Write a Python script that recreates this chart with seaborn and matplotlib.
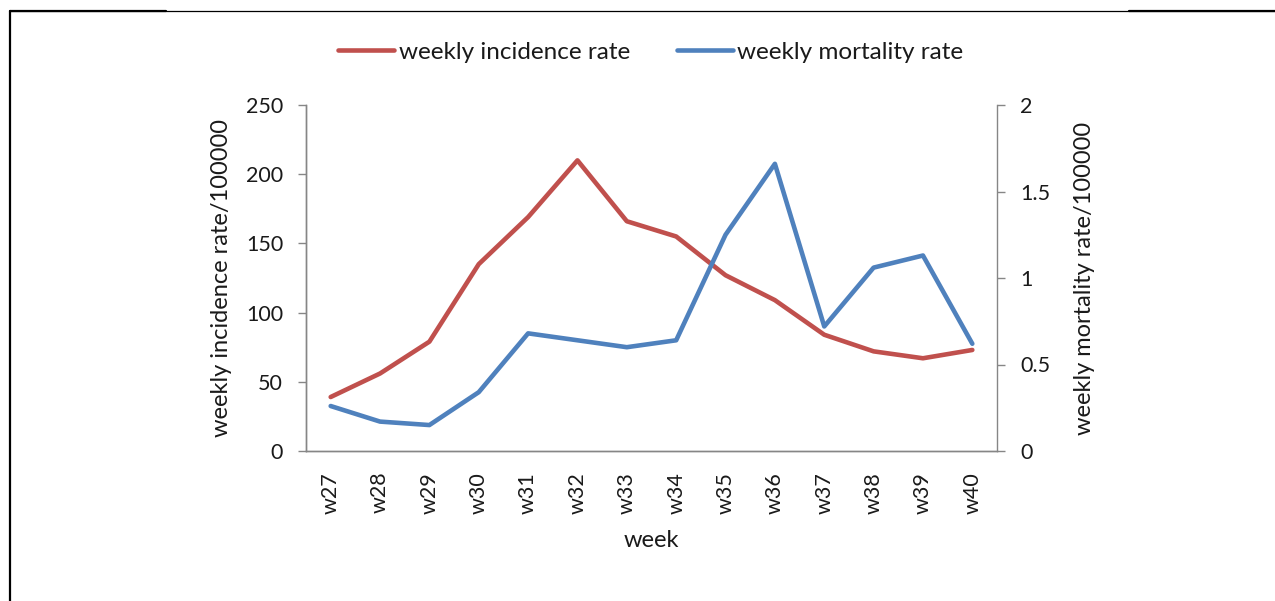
import matplotlib
matplotlib.use("Agg")
import matplotlib.pyplot as plt
import seaborn as sns
import pandas as pd
from matplotlib.lines import Line2D

weeks = ["w27", "w28", "w29", "w30", "w31", "w32", "w33",
         "w34", "w35", "w36", "w37", "w38", "w39", "w40"]
incidence = [39, 56, 79, 135, 169, 210, 166, 155, 127, 109, 84, 72, 67, 73]
mortality = [0.26, 0.17, 0.15, 0.34, 0.68, 0.64, 0.60, 0.64, 1.25, 1.66,
             0.72, 1.06, 1.13, 0.62]

red = "#C0504D"
blue = "#4F81BD"
grey = "#868686"
text_col = "#1a1a1a"


def main():
    sns.set_style("white")
    plt.rcParams["font.family"] = ["Lato", "DejaVu Sans"]
    plt.rcParams["text.color"] = text_col

    df = pd.DataFrame({"week": weeks, "incidence": incidence, "mortality": mortality})

    fig = plt.figure(figsize=(12.75, 6.01), dpi=100)
    ax = fig.add_axes([306 / 1275, 1 - 451 / 601, (997 - 306) / 1275, (451 - 105) / 601])
    ax2 = ax.twinx()

    sns.lineplot(data=df, x="week", y="incidence", ax=ax, color=red, linewidth=3.3,
                 label="weekly incidence rate", legend=False)
    sns.lineplot(data=df, x="week", y="mortality", ax=ax2, color=blue, linewidth=3.3,
                 label="weekly mortality rate", legend=False)

    n = len(weeks)
    ax.set_xlim(-0.5, n - 0.5)
    ax.set_ylim(0, 250)
    ax2.set_ylim(0, 2)
    ax.set_yticks(range(0, 251, 50))
    ax2.set_yticks([0, 0.5, 1, 1.5, 2])
    ax2.set_yticklabels(["0", "0.5", "1", "1.5", "2"])

    ax.set_xticks(range(n))
    ax.set_xticklabels(weeks, rotation=90)
    ax.set_xticks([i - 0.5 for i in range(n + 1)], minor=True)
    ax.tick_params(axis="x", which="major", length=0, pad=15, labelsize=15.5, labelcolor=text_col)
    ax.tick_params(axis="x", which="minor", length=5, width=1, color=grey, direction="out")
    ax.tick_params(axis="y", length=5.5, width=1, color=grey, direction="out", left=True,
                   labelsize=15.5, labelcolor=text_col, pad=11)
    ax2.tick_params(axis="y", length=5.5, width=1, color=grey, direction="out", right=True,
                    labelsize=15.5, labelcolor=text_col, pad=11)

    for a in (ax, ax2):
        a.spines["top"].set_visible(False)
        for s in ("left", "right", "bottom"):
            a.spines[s].set_color(grey)
            a.spines[s].set_linewidth(1)
    ax.spines["right"].set_visible(False)

    ax.set_xlabel("week", fontsize=17, color=text_col, labelpad=12)
    ax.set_ylabel("weekly incidence rate/100000", fontsize=17, color=text_col, labelpad=10)
    ax2.set_ylabel("weekly mortality rate/100000", fontsize=17, color=text_col, labelpad=17,
                   rotation=90)

    h1, l1 = ax.get_legend_handles_labels()
    h2, l2 = ax2.get_legend_handles_labels()
    fig.legend(h1 + h2, l1 + l2, loc="center", bbox_to_anchor=(651 / 1275, 1 - 52 / 601),
               ncol=2, frameon=False, fontsize=17.5, handlelength=2.3, handletextpad=0.2,
               columnspacing=1.9)

    # page frame lines around the chart
    fig.add_artist(Line2D([10 / 1275, 1], [1 - 11 / 601, 1 - 11 / 601],
                          transform=fig.transFigure, color="black", linewidth=0.9))
    fig.add_artist(Line2D([10 / 1275, 166 / 1275], [1 - 11 / 601, 1 - 11 / 601],
                          transform=fig.transFigure, color="black", linewidth=1.6))
    fig.add_artist(Line2D([1129 / 1275, 1], [1 - 11 / 601, 1 - 11 / 601],
                          transform=fig.transFigure, color="black", linewidth=1.6))
    fig.add_artist(Line2D([10 / 1275, 10 / 1275], [0, 1 - 11 / 601],
                          transform=fig.transFigure, color="black", linewidth=1.6))

    fig.savefig("out.png", dpi=100)
    plt.close(fig)


if __name__ == "__main__":
    main()
